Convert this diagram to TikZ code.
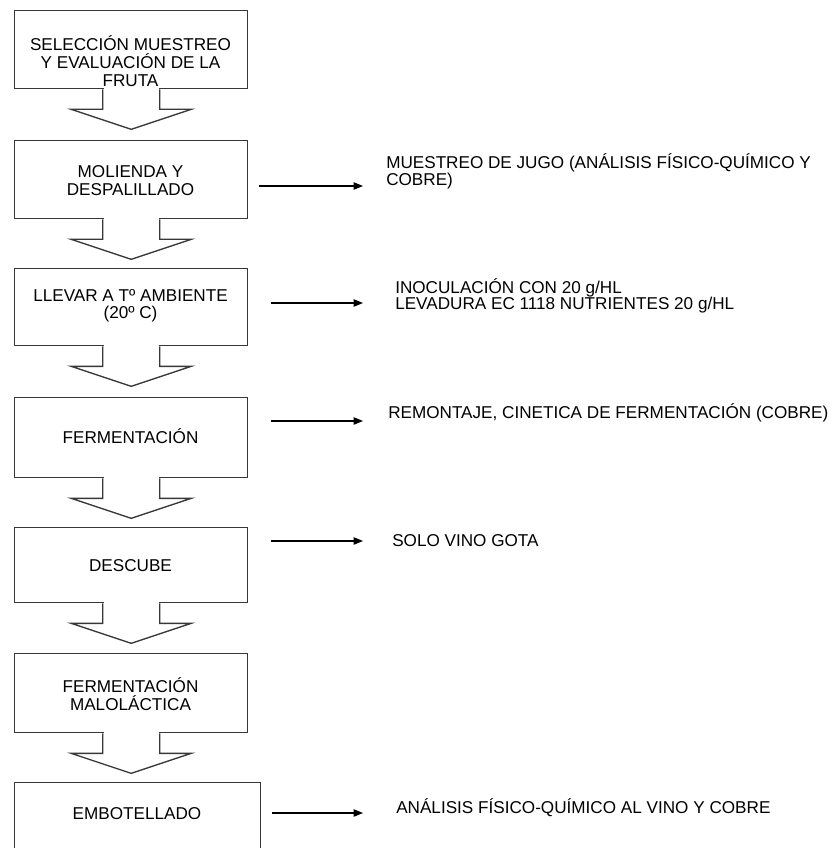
\documentclass[tikz,border=0pt]{standalone}
\usepackage{fontspec}
\setmainfont{Liberation Sans}
\usetikzlibrary{arrows.meta,calc}
\definecolor{boxgray}{gray}{0.22}
\definecolor{txt}{gray}{0.0}
\newcommand\flowarrow[1]{%
  \fill[white] ($(#1.south)+(-27.6,-1.3)$) rectangle ($(#1.south)+(27.6,1.3)$);
  \draw[arrline] ($(#1.south)+(-28.5,0)$) -- ($(#1.south)+(-28.5,20)$) -- ($(#1.south)+(-60,20)$)
    -- ($(#1.south)+(0,40)$) -- ($(#1.south)+(60,20)$) -- ($(#1.south)+(28.5,20)$) -- ($(#1.south)+(28.5,0)$);%
}
\begin{document}
\begin{tikzpicture}[x=0.75pt,y=-0.75pt,
  box/.style={draw=boxgray,line width=1pt,minimum width=174.75pt,anchor=north west,inner sep=0pt},
  arrline/.style={draw=boxgray,line width=1pt,line join=miter},
  boxtext/.style={text=txt,align=center,inner sep=0pt,font=\fontsize{12.85pt}{13.5pt}\selectfont},
  side/.style={text=txt,align=left,anchor=west,inner sep=0pt,font=\fontsize{12.85pt}{12.75pt}\selectfont},
  sidearrow/.style={draw=black,line width=0.8pt,-{Triangle[length=7pt,width=5.5pt]}}]
\useasboundingbox (0,0) rectangle (833,848);
\fill[white] (0,0) rectangle (833,848);
% boxes
\node[box,minimum height=58.5pt] (b1) at (14,10) {};
\node[box,minimum height=58.5pt] (b2) at (14,140) {};
\node[box,minimum height=57.75pt] (b3) at (14,268) {};
\node[box,minimum height=60pt] (b4) at (14,397) {};
\node[box,minimum height=56.25pt] (b5) at (14,527) {};
\node[box,minimum height=59.25pt] (b6) at (14,653) {};
\node[box,minimum width=184.5pt,minimum height=75pt] (b7) at (14,782) {};
% block arrows
\flowarrow{b1}
\flowarrow{b2}
\flowarrow{b3}
\flowarrow{b4}
\flowarrow{b5}
\flowarrow{b6}
% box texts
\node[boxtext] (l1) at (130.5,61) {SELECCIÓN MUESTREO\\Y EVALUACIÓN DE LA\\FRUTA};
\node[boxtext] (l2) at (130.5,181) {MOLIENDA Y\\DESPALILLADO};
\node[boxtext,font=\fontsize{12.85pt}{12.75pt}\selectfont] (l3) at (130.5,305.5) {LLEVAR A Tº AMBIENTE\\(20º C)};
\node[boxtext] (l4) at (130.5,436) {FERMENTACIÓN};
\node[boxtext] (l5) at (130.5,566) {DESCUBE};
\node[boxtext] (l6) at (130.5,694) {FERMENTACIÓN\\MALOLÁCTICA};
\node[boxtext] (l7) at (137,814) {EMBOTELLADO};
% side texts
\node[side] (t2) at (386,171.5) {MUESTREO DE JUGO (ANÁLISIS FÍSICO-QUÍMICO Y\\COBRE)};
\node[side,font=\fontsize{12.85pt}{12pt}\selectfont] (t3) at (395,296) {INOCULACIÓN CON 20 g/HL\\LEVADURA EC 1118 NUTRIENTES 20 g/HL};
\node[side] (t4) at (388,412.5) {REMONTAJE, CINETICA DE FERMENTACIÓN (COBRE)};
\node[side] (t5) at (392,541) {SOLO VINO GOTA};
\node[side] (t7) at (396,808) {ANÁLISIS FÍSICO-QUÍMICO AL VINO Y COBRE};
% side arrows
\coordinate (a2s) at (259,186); \coordinate (a2e) at (363,186);
\coordinate (a3s) at (271,303); \coordinate (a3e) at (363,303);
\coordinate (a4s) at (271,421); \coordinate (a4e) at (363,421);
\coordinate (a5s) at (271,541); \coordinate (a5e) at (363,541);
\coordinate (a7s) at (272,813); \coordinate (a7e) at (363,813);
\draw[sidearrow] (a2s) -- (a2e);
\draw[sidearrow] (a3s) -- (a3e);
\draw[sidearrow] (a4s) -- (a4e);
\draw[sidearrow] (a5s) -- (a5e);
\draw[sidearrow] (a7s) -- (a7e);
\end{tikzpicture}
\end{document}
